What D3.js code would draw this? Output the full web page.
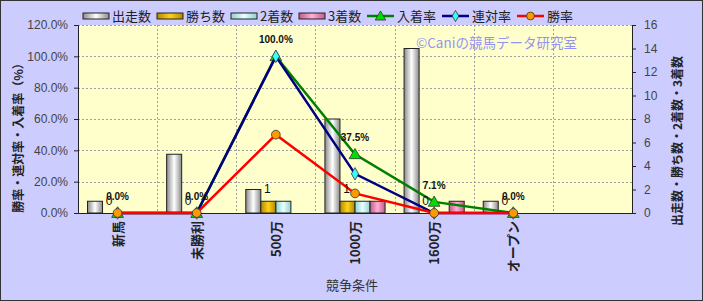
<!DOCTYPE html>
<html>
<head>
<meta charset="utf-8">
<script src="https://cdn.jsdelivr.net/npm/d3@7"></script>
<style>
  body { margin: 0; background: #fff; }
  svg text { font-family: "Liberation Sans", "Noto Sans CJK JP", sans-serif; }
  .jp { font-family: "Noto Sans CJK JP", sans-serif; }
</style>
</head>
<body>
<div class="canvas"></div>
<script>
// categories and series
const categories = ['新馬', '未勝利', '500万', '1000万', '1600万', 'オープン', ''];
const runs    = [1, 5, 2, 8, 14, 1];
const wins    = [0, 0, 1, 1, 0, 0];
const seconds = [0, 0, 1, 1, 0, 0];
const thirds  = [0, 0, 0, 1, 1, 0];
const placeRate    = [0, 0, 1.0, 0.375, 0.071, 0];
const quinellaRate = [0, 0, 1.0, 0.25, 0, 0];
const winRate      = [0, 0, 0.5, 0.125, 0, 0];
const leftTicks  = [0, 0.2, 0.4, 0.6, 0.8, 1.0, 1.2];
const rightTicks = [0, 2, 4, 6, 8, 10, 12, 14, 16];

const dims = { width: 703, height: 301 };
const plot = { left: 78, right: 632, top: 25, bottom: 213 };

const svg = d3.select('.canvas')
    .append('svg')
    .attr('width', dims.width)
    .attr('height', dims.height)
;

// gradients for the bars
const defs = svg.append('defs');
const barSeries = [
    { name: '出走数', values: runs,    edge: '#8a8a8a', mid: '#ffffff' },
    { name: '勝ち数', values: wins,    edge: '#b08800', mid: '#ffd21a' },
    { name: '2着数',  values: seconds, edge: '#8fd0d0', mid: '#e8ffff' },
    { name: '3着数',  values: thirds,  edge: '#c05a8a', mid: '#ffb0d4' },
];
barSeries.forEach((s, i) => {
    const g = defs.append('linearGradient').attr('id', `grad${i}`)
        .attr('x1', 0).attr('x2', 1).attr('y1', 0).attr('y2', 0);
    g.append('stop').attr('offset', '0%').attr('stop-color', s.edge);
    g.append('stop').attr('offset', '50%').attr('stop-color', s.mid);
    g.append('stop').attr('offset', '100%').attr('stop-color', s.edge);
});

// backgrounds
svg.append('rect')
    .attr('x', 0.5).attr('y', 0.5)
    .attr('width', dims.width - 1).attr('height', dims.height - 1)
    .attr('fill', '#ccccff').attr('stroke', '#333');
svg.append('rect')
    .attr('x', plot.left).attr('y', plot.top)
    .attr('width', plot.right - plot.left).attr('height', plot.bottom - plot.top)
    .attr('fill', '#ffffcc');

const x = d3.scaleBand().domain(categories).range([plot.left, plot.right]);
const bw = x.bandwidth();
const xBar = d3.scaleBand().domain(barSeries.map(s => s.name)).range([bw * 0.12, bw * 0.88]);
const yL = d3.scaleLinear().domain([0, 1.2]).range([plot.bottom, plot.top]);
const yR = d3.scaleLinear().domain([0, 16]).range([plot.bottom, plot.top]);

// grid
const grid = svg.append('g').attr('stroke', '#a0a0a0').attr('stroke-dasharray', '2,2');
grid.selectAll('line.h').data(leftTicks.slice(1)).enter().append('line')
    .attr('x1', plot.left).attr('x2', plot.right)
    .attr('y1', d => Math.round(yL(d)) + 0.5).attr('y2', d => Math.round(yL(d)) + 0.5);
grid.selectAll('line.v').data(categories.slice(1)).enter().append('line')
    .attr('x1', d => Math.round(x(d)) + 0.5).attr('x2', d => Math.round(x(d)) + 0.5)
    .attr('y1', plot.top).attr('y2', plot.bottom);

// bars
const bars = svg.append('g');
barSeries.forEach((s, i) => {
    bars.selectAll(`rect.s${i}`).data(s.values).enter().append('rect')
        .attr('x', (d, j) => x(categories[j]) + xBar(s.name))
        .attr('width', xBar.bandwidth())
        .attr('y', d => yR(d))
        .attr('height', d => plot.bottom - yR(d))
        .attr('fill', `url(#grad${i})`)
        .attr('stroke', d => d > 0 ? '#222' : 'none')
        .attr('stroke-width', 1);
});

// axes
const axisL = svg.append('g')
    .attr('transform', `translate(${plot.left},0)`)
    .call(d3.axisLeft(yL).tickValues(leftTicks).tickSize(4).tickFormat(d3.format('.1%')));
const axisR = svg.append('g')
    .attr('transform', `translate(${plot.right},0)`)
    .call(d3.axisRight(yR).tickValues(rightTicks).tickSize(4));
[axisL, axisR].forEach(a => {
    a.select('.domain').attr('stroke', '#222');
    a.selectAll('.tick line').attr('stroke', '#222');
    a.selectAll('.tick text').attr('font-size', 12).attr('fill', '#444')
        .attr('font-family', 'Liberation Sans, sans-serif');
});
axisL.selectAll('.tick text').attr('x', -10);
axisR.selectAll('.tick text').attr('x', 12);

svg.append('line')
    .attr('x1', plot.left).attr('x2', plot.right)
    .attr('y1', plot.bottom + 0.5).attr('y2', plot.bottom + 0.5)
    .attr('stroke', '#222');

// category labels
svg.append('g').selectAll('text').data(categories.filter(c => c)).enter().append('text')
    .attr('class', 'jp')
    .attr('transform', d => `translate(${x(d) + bw / 2 + 5},${plot.bottom + 8}) rotate(-90)`)
    .attr('text-anchor', 'end')
    .attr('font-size', 13)
    .attr('font-weight', 'bold')
    .attr('fill', '#222')
    .text(d => d);

// lines
const lineSeries = [
    { name: '入着率', values: placeRate,    color: '#008000', marker: d3.symbolTriangle, fill: '#00dd00', size: 60 },
    { name: '連対率', values: quinellaRate, color: '#000080', marker: d3.symbolDiamond,  fill: '#33ffff', size: 45 },
    { name: '勝率',   values: winRate,      color: '#ff0000', marker: d3.symbolCircle,   fill: '#ff9900', size: 60 },
];
const line = d3.line()
    .x((d, j) => x(categories[j]) + bw / 2)
    .y(d => yL(d));
const lines = svg.append('g');
lineSeries.forEach(s => {
    lines.append('path')
        .attr('d', line(s.values))
        .attr('fill', 'none')
        .attr('stroke', s.color)
        .attr('stroke-width', 2.5);
    lines.selectAll(null).data(s.values).enter().append('path')
        .attr('transform', (d, j) => `translate(${x(categories[j]) + bw / 2},${yL(d) + (s.marker === d3.symbolTriangle ? 1 : 0)})`)
        .attr('d', d3.symbol().type(s.marker).size(s.size))
        .attr('fill', s.fill)
        .attr('stroke', '#333')
        .attr('stroke-width', 0.8);
});

// data labels (they overlap at zero values, as in the original)
const labels = svg.append('g');
labels.selectAll('text.wins').data(wins).enter().append('text')
    .attr('x', (d, j) => x(categories[j]) + xBar('勝ち数') + xBar.bandwidth() / 2 - 1)
    .attr('y', d => yR(d) - 8)
    .attr('text-anchor', 'middle')
    .attr('font-size', 12)
    .attr('fill', '#111')
    .text(d => d);
labels.selectAll('text.rate').data(placeRate).enter().append('text')
    .attr('x', (d, j) => x(categories[j]) + bw / 2)
    .attr('y', d => yL(d) - 13)
    .attr('text-anchor', 'middle')
    .attr('font-size', 10)
    .attr('font-weight', 'bold')
    .attr('fill', '#111')
    .text(d => d3.format('.1%')(d));

// watermark
svg.append('text')
    .attr('class', 'jp')
    .attr('x', 416).attr('y', 48)
    .attr('font-size', 13.5)
    .attr('fill', '#9494f0')
    .text('©Caniの競馬データ研究室');

// axis titles
svg.append('text')
    .attr('class', 'jp')
    .attr('transform', `translate(23,${(plot.top + plot.bottom) / 2 + 16}) rotate(-90)`)
    .attr('text-anchor', 'middle')
    .attr('font-size', 12)
    .attr('font-weight', 'bold')
    .attr('fill', '#222')
    .text('勝率・連対率・入着率（%）');
svg.append('text')
    .attr('class', 'jp')
    .attr('transform', `translate(682,${(plot.top + plot.bottom) / 2 + 22}) rotate(-90)`)
    .attr('text-anchor', 'middle')
    .attr('font-size', 12)
    .attr('font-weight', 'bold')
    .attr('fill', '#222')
    .text('出走数・勝ち数・2着数・3着数');
svg.append('text')
    .attr('class', 'jp')
    .attr('x', (plot.left + plot.right) / 2 - 3).attr('y', 290)
    .attr('text-anchor', 'middle')
    .attr('font-size', 13)
    .attr('fill', '#333')
    .text('競争条件');

// legend
const legend = svg.append('g').attr('transform', 'translate(0,16)');
const legendBarX = [83, 157, 231, 299];
barSeries.forEach((s, i) => {
    legend.append('rect')
        .attr('x', legendBarX[i]).attr('y', -3)
        .attr('width', 26).attr('height', 6)
        .attr('fill', `url(#grad${i})`).attr('stroke', '#222');
    legend.append('text')
        .attr('class', 'jp')
        .attr('x', legendBarX[i] + 29).attr('y', 5)
        .attr('font-size', 13).attr('fill', '#222')
        .text(s.name);
});
const legendLineX = [367, 442, 517];
lineSeries.forEach((s, i) => {
    legend.append('line')
        .attr('x1', legendLineX[i]).attr('x2', legendLineX[i] + 27)
        .attr('stroke', s.color).attr('stroke-width', 2.5);
    legend.append('path')
        .attr('transform', `translate(${legendLineX[i] + 13.5},${s.marker === d3.symbolTriangle ? 1 : 0})`)
        .attr('d', d3.symbol().type(s.marker).size(s.size * 0.8))
        .attr('fill', s.fill).attr('stroke', '#333').attr('stroke-width', 0.8);
    legend.append('text')
        .attr('class', 'jp')
        .attr('x', legendLineX[i] + 30).attr('y', 5)
        .attr('font-size', 13).attr('fill', '#222')
        .text(s.name);
});
</script>
</body>
</html>
